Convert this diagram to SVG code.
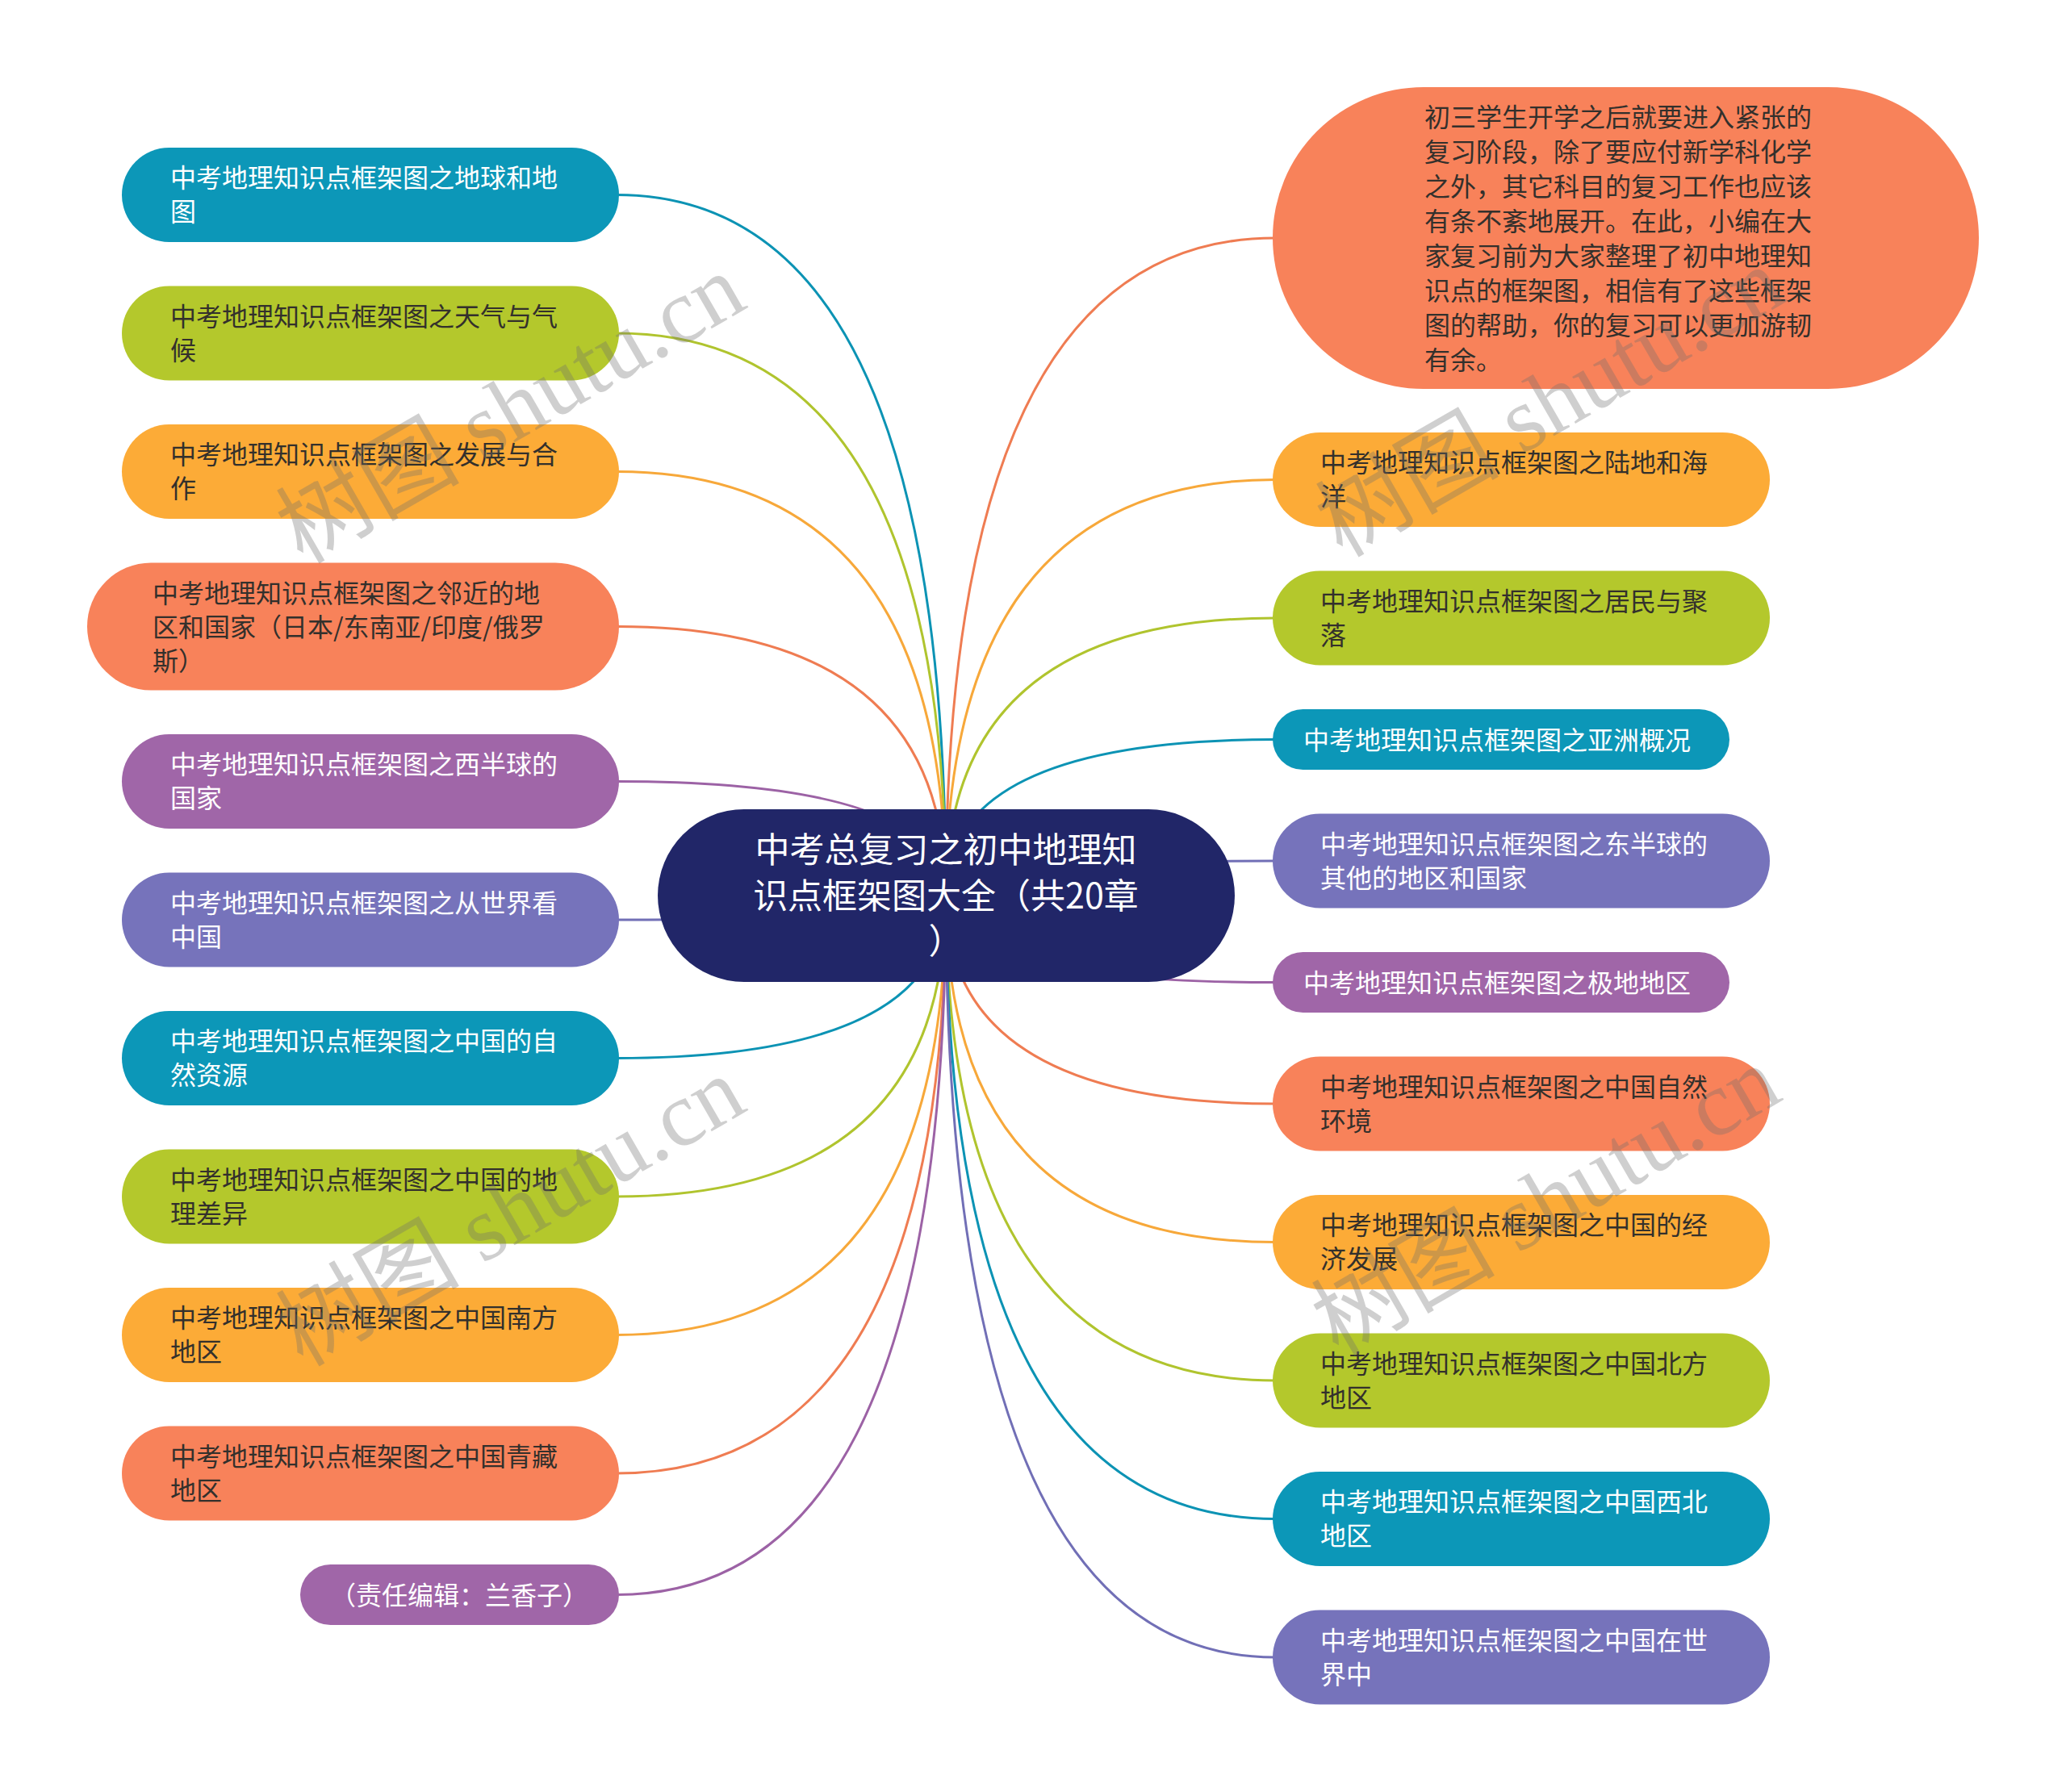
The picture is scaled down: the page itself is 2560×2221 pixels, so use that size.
<svg xmlns="http://www.w3.org/2000/svg" width="2560" height="2221" viewBox="0 0 2560 2221">
<style>
.t{font-family:"Noto Sans CJK SC","Noto Sans",sans-serif;font-size:32px}
.w{fill:#ffffff}
.d{fill:#33302c}
.teal{fill:#0c97b8}
.green{fill:#b4c82c}
.orange{fill:#fcab37}
.coral{fill:#f8825a}
.purple{fill:#a066a8}
.violet{fill:#7673bb}
.c{fill:none;stroke-width:3}
.cteal{stroke:#0c93b4}
.cgreen{stroke:#b0c42e}
.corange{stroke:#f7a83a}
.ccoral{stroke:#ef7c52}
.cpurple{stroke:#9c62a5}
.cviolet{stroke:#716fb6}
.wm{font-family:"Liberation Serif","Noto Sans CJK SC",serif;font-size:114px;fill:#6e6e6e;opacity:0.32}
</style>
<rect width="2560" height="2221" fill="#ffffff"/>
<g id="connectors">
<path class="c cteal" d="M1172 1110 Q1172 241.5 764 241.5"/>
<path class="c cgreen" d="M1172 1110 Q1172 413 764 413"/>
<path class="c corange" d="M1172 1110 Q1172 584.5 764 584.5"/>
<path class="c ccoral" d="M1172 1110 Q1172 776.5 764 776.5"/>
<path class="c cpurple" d="M1172 1110 Q1172 968.5 764 968.5"/>
<path class="c cviolet" d="M1172 1110 Q1172 1140 764 1140"/>
<path class="c cteal" d="M1172 1110 Q1172 1311.5 764 1311.5"/>
<path class="c cgreen" d="M1172 1110 Q1172 1483 764 1483"/>
<path class="c corange" d="M1172 1110 Q1172 1654.5 764 1654.5"/>
<path class="c ccoral" d="M1172 1110 Q1172 1826 764 1826"/>
<path class="c cpurple" d="M1172 1110 Q1172 1976.5 764 1976.5"/>
<path class="c ccoral" d="M1172 1110 Q1172 295 1580 295"/>
<path class="c corange" d="M1172 1110 Q1172 594.5 1580 594.5"/>
<path class="c cgreen" d="M1172 1110 Q1172 766 1580 766"/>
<path class="c cteal" d="M1172 1110 Q1172 916.5 1580 916.5"/>
<path class="c cviolet" d="M1172 1110 Q1172 1067 1580 1067"/>
<path class="c cpurple" d="M1172 1110 Q1172 1217.5 1580 1217.5"/>
<path class="c ccoral" d="M1172 1110 Q1172 1368 1580 1368"/>
<path class="c corange" d="M1172 1110 Q1172 1539.5 1580 1539.5"/>
<path class="c cgreen" d="M1172 1110 Q1172 1711 1580 1711"/>
<path class="c cteal" d="M1172 1110 Q1172 1882.5 1580 1882.5"/>
<path class="c cviolet" d="M1172 1110 Q1172 2054 1580 2054"/>
</g>
<g id="center">
<rect x="815" y="1003" width="715" height="214" rx="107" fill="#212668"/>
<text class="t w" style="font-size:43px" text-anchor="middle"><tspan x="1172" y="1069">中考总复习之初中地理知</tspan><tspan x="1172" y="1126">识点框架图大全（共20章</tspan><tspan x="1172" y="1182">）</tspan></text>
</g>
<g id="L1"><rect class="teal" x="151" y="183" width="616" height="117" rx="58.5"/><text class="t w"><tspan x="211" y="232">中考地理知识点框架图之地球和地</tspan><tspan x="211" y="274">图</tspan></text></g>
<g id="L2"><rect class="green" x="151" y="354.5" width="616" height="117" rx="58.5"/><text class="t d"><tspan x="211" y="403.5">中考地理知识点框架图之天气与气</tspan><tspan x="211" y="445.5">候</tspan></text></g>
<g id="L3"><rect class="orange" x="151" y="526" width="616" height="117" rx="58.5"/><text class="t d"><tspan x="211" y="575">中考地理知识点框架图之发展与合</tspan><tspan x="211" y="617">作</tspan></text></g>
<g id="L4"><rect class="coral" x="108" y="697.5" width="659" height="158" rx="79"/><text class="t d"><tspan x="189" y="746.5">中考地理知识点框架图之邻近的地</tspan><tspan x="189" y="788.5">区和国家（日本/东南亚/印度/俄罗</tspan><tspan x="189" y="830.5">斯）</tspan></text></g>
<g id="L5"><rect class="purple" x="151" y="910" width="616" height="117" rx="58.5"/><text class="t w"><tspan x="211" y="959">中考地理知识点框架图之西半球的</tspan><tspan x="211" y="1001">国家</tspan></text></g>
<g id="L6"><rect class="violet" x="151" y="1081.5" width="616" height="117" rx="58.5"/><text class="t w"><tspan x="211" y="1130.5">中考地理知识点框架图之从世界看</tspan><tspan x="211" y="1172.5">中国</tspan></text></g>
<g id="L7"><rect class="teal" x="151" y="1253" width="616" height="117" rx="58.5"/><text class="t w"><tspan x="211" y="1302">中考地理知识点框架图之中国的自</tspan><tspan x="211" y="1344">然资源</tspan></text></g>
<g id="L8"><rect class="green" x="151" y="1424.5" width="616" height="117" rx="58.5"/><text class="t d"><tspan x="211" y="1473.5">中考地理知识点框架图之中国的地</tspan><tspan x="211" y="1515.5">理差异</tspan></text></g>
<g id="L9"><rect class="orange" x="151" y="1596" width="616" height="117" rx="58.5"/><text class="t d"><tspan x="211" y="1645">中考地理知识点框架图之中国南方</tspan><tspan x="211" y="1687">地区</tspan></text></g>
<g id="L10"><rect class="coral" x="151" y="1767.5" width="616" height="117" rx="58.5"/><text class="t d"><tspan x="211" y="1816.5">中考地理知识点框架图之中国青藏</tspan><tspan x="211" y="1858.5">地区</tspan></text></g>
<g id="L11"><rect class="purple" x="372" y="1939" width="395" height="75" rx="37.5"/><text class="t w" x="569" y="1988.5" text-anchor="middle">（责任编辑：兰香子）</text></g>
<g id="R0"><rect class="coral" x="1577" y="108" width="875" height="374" rx="187"/><text class="t d"><tspan x="1765" y="156.5">初三学生开学之后就要进入紧张的</tspan><tspan x="1765" y="199.5">复习阶段，除了要应付新学科化学</tspan><tspan x="1765" y="242.5">之外，其它科目的复习工作也应该</tspan><tspan x="1765" y="285.5">有条不紊地展开。在此，小编在大</tspan><tspan x="1765" y="328.5">家复习前为大家整理了初中地理知</tspan><tspan x="1765" y="371.5">识点的框架图，相信有了这些框架</tspan><tspan x="1765" y="414.5">图的帮助，你的复习可以更加游韧</tspan><tspan x="1765" y="457.5">有余。</tspan></text></g>
<g id="R1"><rect class="orange" x="1577" y="536" width="616" height="117" rx="58.5"/><text class="t d"><tspan x="1636" y="585">中考地理知识点框架图之陆地和海</tspan><tspan x="1636" y="627">洋</tspan></text></g>
<g id="R2"><rect class="green" x="1577" y="707.5" width="616" height="117" rx="58.5"/><text class="t d"><tspan x="1636" y="756.5">中考地理知识点框架图之居民与聚</tspan><tspan x="1636" y="798.5">落</tspan></text></g>
<g id="R3"><rect class="teal" x="1577" y="879" width="566" height="75" rx="37.5"/><text class="t w" x="1615" y="928.5">中考地理知识点框架图之亚洲概况</text></g>
<g id="R4"><rect class="violet" x="1577" y="1008.5" width="616" height="117" rx="58.5"/><text class="t w"><tspan x="1636" y="1057.5">中考地理知识点框架图之东半球的</tspan><tspan x="1636" y="1099.5">其他的地区和国家</tspan></text></g>
<g id="R5"><rect class="purple" x="1577" y="1180" width="566" height="75" rx="37.5"/><text class="t w" x="1615" y="1229.5">中考地理知识点框架图之极地地区</text></g>
<g id="R6"><rect class="coral" x="1577" y="1309.5" width="616" height="117" rx="58.5"/><text class="t d"><tspan x="1636" y="1358.5">中考地理知识点框架图之中国自然</tspan><tspan x="1636" y="1400.5">环境</tspan></text></g>
<g id="R7"><rect class="orange" x="1577" y="1481" width="616" height="117" rx="58.5"/><text class="t d"><tspan x="1636" y="1530">中考地理知识点框架图之中国的经</tspan><tspan x="1636" y="1572">济发展</tspan></text></g>
<g id="R8"><rect class="green" x="1577" y="1652.5" width="616" height="117" rx="58.5"/><text class="t d"><tspan x="1636" y="1701.5">中考地理知识点框架图之中国北方</tspan><tspan x="1636" y="1743.5">地区</tspan></text></g>
<g id="R9"><rect class="teal" x="1577" y="1824" width="616" height="117" rx="58.5"/><text class="t w"><tspan x="1636" y="1873">中考地理知识点框架图之中国西北</tspan><tspan x="1636" y="1915">地区</tspan></text></g>
<g id="R10"><rect class="violet" x="1577" y="1995.5" width="616" height="117" rx="58.5"/><text class="t w"><tspan x="1636" y="2044.5">中考地理知识点框架图之中国在世</tspan><tspan x="1636" y="2086.5">界中</tspan></text></g>
<g id="watermark">
<text class="wm" text-anchor="middle" transform="translate(652,540) rotate(-30)">树图 shutu.cn</text>
<text class="wm" text-anchor="middle" transform="translate(1940,532) rotate(-30)">树图 shutu.cn</text>
<text class="wm" text-anchor="middle" transform="translate(652,1535) rotate(-30)">树图 shutu.cn</text>
<text class="wm" text-anchor="middle" transform="translate(1935,1522) rotate(-30)">树图 shutu.cn</text>
</g>
</svg>
